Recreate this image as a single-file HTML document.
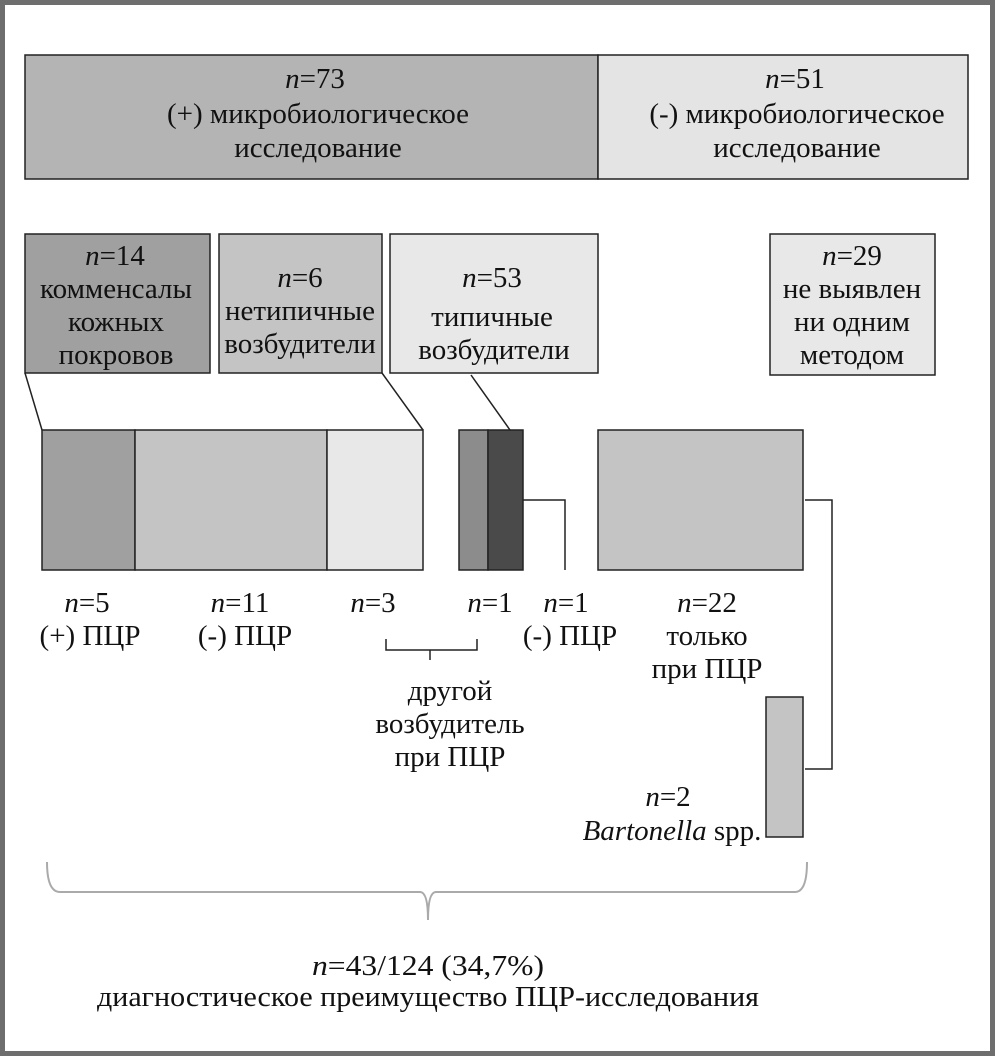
<!DOCTYPE html>
<html><head><meta charset="utf-8"><style>
html,body{margin:0;padding:0;background:#fff}
svg{display:block}
text{font-family:"Liberation Serif","Noto Serif CJK SC",serif;font-size:29px;fill:#111}
.i{font-style:italic}
</style></head><body>
<svg width="995" height="1056" viewBox="0 0 995 1056" xmlns="http://www.w3.org/2000/svg">
<rect x="2.5" y="2.5" width="990" height="1051" fill="#fff" stroke="#6e6e6e" stroke-width="5"/>
<g stroke="#222" stroke-width="1.5">
<rect x="25" y="55" width="573" height="124" fill="#b4b4b4"/>
<rect x="598" y="55" width="370" height="124" fill="#e4e4e4"/>
<rect x="25" y="234" width="185" height="139" fill="#a0a0a0"/>
<rect x="219" y="234" width="163" height="139" fill="#c4c4c4"/>
<rect x="390" y="234" width="208" height="139" fill="#e8e8e8"/>
<rect x="770" y="234" width="165" height="141" fill="#e8e8e8"/>
<rect x="42" y="430" width="93" height="140" fill="#a0a0a0"/>
<rect x="135" y="430" width="192" height="140" fill="#c4c4c4"/>
<rect x="327" y="430" width="96" height="140" fill="#e8e8e8"/>
<rect x="459" y="430" width="29" height="140" fill="#8c8c8c"/>
<rect x="488" y="430" width="35" height="140" fill="#4a4a4a"/>
<rect x="598" y="430" width="205" height="140" fill="#c4c4c4"/>
<rect x="766" y="697" width="37" height="140" fill="#c4c4c4"/>
<g fill="none">
<line x1="25" y1="373" x2="42" y2="430"/>
<line x1="382" y1="373" x2="423" y2="430"/>
<line x1="471" y1="375" x2="510" y2="430"/>
<polyline points="523,500 565,500 565,570"/>
<polyline points="805,500 832,500 832,769 805,769"/>
<polyline points="386,639 386,650 477,650 477,639"/>
<line x1="430" y1="650" x2="430" y2="660"/>
</g>
</g>
<path d="M47,862 Q47,892 60,892 L420,892 Q428,892 428,920 Q428,892 436,892 L795,892 Q807,892 807,862" fill="none" stroke="#aaa" stroke-width="2"/>
<g text-anchor="middle">
<text x="315" y="88"><tspan class="i">n</tspan>=73</text>
<text x="318" y="123">(+) микробиологическое</text>
<text x="318" y="157">исследование</text>
<text x="795" y="88"><tspan class="i">n</tspan>=51</text>
<text x="797" y="123">(-) микробиологическое</text>
<text x="797" y="157">исследование</text>
<text x="115" y="265"><tspan class="i">n</tspan>=14</text>
<text x="116" y="298">комменсалы</text>
<text x="116" y="331">кожных</text>
<text x="116" y="364">покровов</text>
<text x="300" y="287"><tspan class="i">n</tspan>=6</text>
<text x="300" y="320">нетипичные</text>
<text x="300" y="353">возбудители</text>
<text x="492" y="287"><tspan class="i">n</tspan>=53</text>
<text x="492" y="326">типичные</text>
<text x="494" y="359">возбудители</text>
<text x="852" y="265"><tspan class="i">n</tspan>=29</text>
<text x="852" y="298">не выявлен</text>
<text x="852" y="331">ни одним</text>
<text x="852" y="364">методом</text>
<text x="87" y="612"><tspan class="i">n</tspan>=5</text>
<text x="90" y="645">(+) ПЦР</text>
<text x="240" y="612"><tspan class="i">n</tspan>=11</text>
<text x="245" y="645">(-) ПЦР</text>
<text x="373" y="612"><tspan class="i">n</tspan>=3</text>
<text x="490" y="612"><tspan class="i">n</tspan>=1</text>
<text x="566" y="612"><tspan class="i">n</tspan>=1</text>
<text x="570" y="645">(-) ПЦР</text>
<text x="707" y="612"><tspan class="i">n</tspan>=22</text>
<text x="707" y="645">только</text>
<text x="707" y="678">при ПЦР</text>
<text x="450" y="700">другой</text>
<text x="450" y="733">возбудитель</text>
<text x="450" y="766">при ПЦР</text>
<text x="668" y="806"><tspan class="i">n</tspan>=2</text>
<text x="672" y="840"><tspan class="i">Bartonella</tspan> spp.</text>
<text x="428" y="975" textLength="232" lengthAdjust="spacingAndGlyphs"><tspan class="i">n</tspan>=43/124 (34,7%)</text>
<text x="428" y="1006" textLength="662" lengthAdjust="spacingAndGlyphs">диагностическое преимущество ПЦР-исследования</text>
</g>
</svg>
</body></html>
